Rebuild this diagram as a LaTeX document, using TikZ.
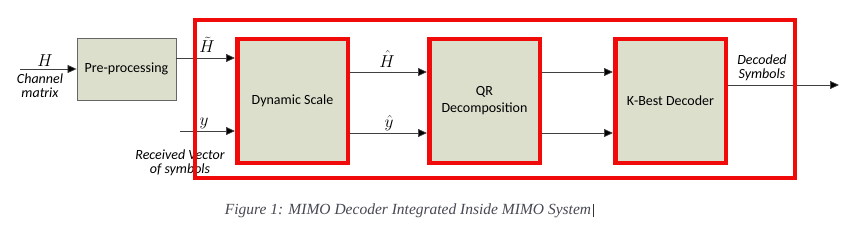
\documentclass[tikz,border=0pt]{standalone}
\usepackage{fontspec}
\setmainfont{Carlito}
\newfontfamily\capfont{Liberation Serif}
\usetikzlibrary{arrows.meta}
\definecolor{boxfill}{RGB}{221,223,205}
\definecolor{boxred}{RGB}{240,10,10}
\definecolor{capgray}{RGB}{70,72,82}
\tikzset{
  redbox/.style={draw=boxred, line width=4.5pt, fill=boxfill, minimum width=110.5pt, minimum height=123.5pt, inner sep=0pt, align=center, font=\fontsize{14}{17}\selectfont},
  prebox/.style={draw=gray!80!black, line width=0.8pt, fill=boxfill, minimum width=99pt, minimum height=62pt, inner sep=0pt, font=\fontsize{14}{17}\selectfont},
  arr/.style={draw=black!75, line width=0.7pt, -{Triangle[length=9pt,width=8pt,fill=black]}},
  itlab/.style={font=\fontsize{14}{16}\itshape\selectfont, inner sep=0pt, align=center},
  mlab/.style={font=\fontsize{19}{19}\selectfont, inner sep=0pt}
}
\begin{document}
\begin{tikzpicture}[x=1pt,y=-1pt]
\useasboundingbox (0,0) rectangle (858,243);
% blocks
\node[prebox] (pre) at (126.5,69) {Pre-processing};
\node[redbox] (ds) at (292.5,101) {Dynamic Scale};
\node[redbox] (qr) at (484.5,101) {QR\\Decomposition};
\node[redbox] (kb) at (670.5,101) {K-Best Decoder};
% coordinates
\coordinate (hin) at (20,69);
\coordinate (ht) at (0,58);
\coordinate (yin) at (180,131);
\coordinate (mid1) at (0,72);
\coordinate (mid2) at (0,133);
\coordinate (outc) at (839,85);
% connectors
\draw[arr] (hin) -- (pre.west);
\draw[arr] (pre.east |- ht) -- (ds.west |- ht);
\draw[arr] (yin) -- (ds.west |- yin);
\draw[arr] (ds.east |- mid1) -- (qr.west |- mid1);
\draw[arr] (ds.east |- mid2) -- (qr.west |- mid2);
\draw[arr] (qr.east |- mid1) -- (kb.west |- mid1);
\draw[arr] (qr.east |- mid2) -- (kb.west |- mid2);
\draw[arr] (kb.east |- outc) -- (outc);
% labels
\node[mlab] (lH) at (45,61) {$H$};
\node[itlab] (lch) at (40,85.5) {Channel\\[-2pt]matrix};
\node[mlab] (lHt) at (207,45) {$\tilde{H}$};
\node[mlab] (ly) at (204,123) {$y$};
\node[mlab] (lHh) at (387,59) {$\hat{H}$};
\node[mlab] (lyh) at (389,123) {$\hat{y}$};
\node[itlab] (lrv) at (180,162.5) {Received Vector\\[-2pt]of symbols};
\node[itlab] (ldec) at (762,68) {Decoded\\[-2pt]Symbols};
% outer red frame (drawn over the labels it crosses)
\node[draw=boxred, line width=4pt, minimum width=600.5pt, minimum height=158.5pt, inner sep=0pt] (frame) at (494.75,99) {};
% caption
\node[font=\capfont\fontsize{15.5}{18}\itshape\selectfont, text=capgray, inner sep=0pt] (cap) at (408,211) {Figure 1: MIMO Decoder Integrated Inside MIMO System};
\coordinate (cur1) at (cap.east);
\draw[black!80, line width=0.8pt] ([xshift=2pt,yshift=7pt]cur1) -- ([xshift=2pt,yshift=-6pt]cur1);
\end{tikzpicture}
\end{document}
